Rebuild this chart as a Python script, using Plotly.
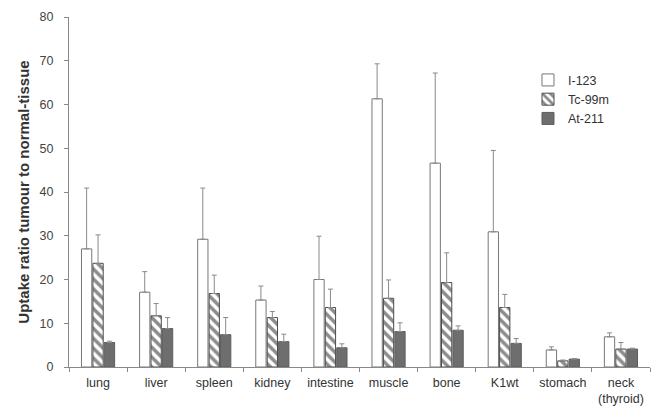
import plotly.graph_objects as go

categories = ["lung", "liver", "spleen", "kidney", "intestine", "muscle", "bone", "K1wt", "stomach", "neck<br>(thyroid)"]
series_names = ["I-123", "Tc-99m", "At-211"]

i123_values = [27.0, 17.1, 29.2, 15.3, 20.0, 61.3, 46.6, 30.9, 3.9, 6.9]
i123_err = [13.9, 4.7, 11.7, 3.2, 9.9, 8.0, 20.6, 18.6, 0.7, 0.9]

tc99m_values = [23.7, 11.7, 16.8, 11.3, 13.6, 15.7, 19.3, 13.6, 1.4, 4.1]
tc99m_err = [6.5, 2.8, 4.2, 1.4, 4.2, 4.2, 6.8, 3.0, 0.2, 1.5]

at211_values = [5.6, 8.8, 7.4, 5.8, 4.4, 8.1, 8.4, 5.4, 1.8, 4.1]
at211_err = [0.3, 2.5, 3.9, 1.7, 0.9, 2.0, 1.0, 1.1, 0.1, 0.2]

y_ticks = [0, 10, 20, 30, 40, 50, 60, 70, 80]

err_style = dict(type="data", symmetric=False, color="#8a8a8a", thickness=1, width=2.5)

fig = go.Figure()
fig.add_trace(go.Bar(
    name=series_names[0], x=categories, y=i123_values,
    marker=dict(color="white", line=dict(color="#777777", width=1)),
    error_y=dict(array=i123_err, arrayminus=[0] * len(i123_err), **err_style),
))
fig.add_trace(go.Bar(
    name=series_names[1], x=categories, y=tc99m_values,
    marker=dict(color="white", line=dict(color="#4a4a4a", width=1),
                pattern=dict(shape="\\", fgcolor="#1a1a1a", bgcolor="white", size=7, solidity=0.5)),
    error_y=dict(array=tc99m_err, arrayminus=[0] * len(tc99m_err), **err_style),
))
fig.add_trace(go.Bar(
    name=series_names[2], x=categories, y=at211_values,
    marker=dict(color="#6e6e6e", line=dict(color="#5e5e5e", width=1)),
    error_y=dict(array=at211_err, arrayminus=[0] * len(at211_err), **err_style),
))

fig.update_layout(
    width=666, height=407,
    margin=dict(l=61, r=24, t=9, b=48),
    paper_bgcolor="white", plot_bgcolor="white",
    barmode="group", bargap=0.41, bargroupgap=0.1,
    font=dict(family="Liberation Sans, Arial, sans-serif", color="#333333", size=12),
    legend=dict(x=0.79, y=0.862, xanchor="left", yanchor="top",
                bgcolor="rgba(0,0,0,0)", font=dict(size=12.5, color="#333333"),
                tracegroupgap=0, itemwidth=30),
    showlegend=True,
)
fig.update_xaxes(
    showline=True, linecolor="#888888", linewidth=1,
    ticks="outside", tickson="boundaries", ticklen=4, tickcolor="#888888",
    tickfont=dict(size=12.5, color="#333333"), ticklabelstandoff=4, tickangle=0,
    automargin=False,
    showgrid=False, zeroline=False,
)
fig.update_yaxes(
    range=[0, 80], tickvals=y_ticks, showline=True, linecolor="#888888", linewidth=1,
    ticks="outside", ticklen=4, tickcolor="#888888",
    tickfont=dict(size=12.5, color="#444444"), ticklabelstandoff=8,
    automargin=False,
    showgrid=False, zeroline=False,
    title=dict(text="<b>Uptake ratio tumour to normal-tissue</b>", font=dict(size=15, color="#333333"), standoff=6),
)

fig.write_html("out.html")
